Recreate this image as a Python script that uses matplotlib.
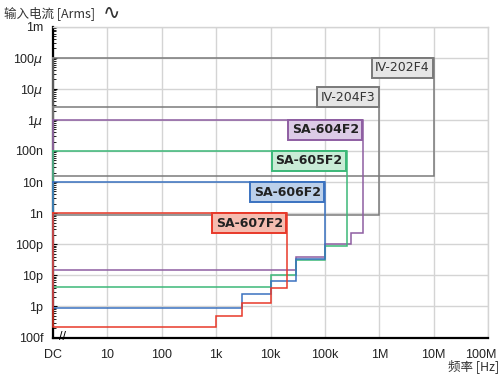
import matplotlib
matplotlib.use("Agg")
import matplotlib.pyplot as plt
import matplotlib.transforms as mtrans
from matplotlib.ticker import FixedLocator, LogLocator, NullFormatter

plt.rcParams["font.family"] = ["Liberation Sans", "Noto Sans CJK SC", "DejaVu Sans"]
plt.rcParams["mathtext.fontset"] = "dejavusans"

# x: DC is drawn at 1 Hz
X_TICKS = [1, 1e1, 1e2, 1e3, 1e4, 1e5, 1e6, 1e7, 1e8]
X_LABELS = ["DC", "10", "100", "1k", "10k", "100k", "1M", "10M", "100M"]
Y_TICKS = [1e-13, 1e-12, 1e-11, 1e-10, 1e-9, 1e-8, 1e-7, 1e-6, 1e-5, 1e-4, 1e-3]
Y_LABELS = ["100f", "1p", "10p", "100p", "1n", "10n", "100n", "1$\\mu$", "10$\\mu$", "100$\\mu$", "1m"]

# instruments: upper limit, max freq, lower-limit staircase (segment start freqs, values)
NAMES = ["IV-202F4", "IV-204F3", "SA-604F2", "SA-605F2", "SA-606F2", "SA-607F2"]
TOP = [1e-4, 2.6e-6, 1e-6, 1e-7, 1e-8, 1e-9]
FMAX = [1e7, 1e6, 5e5, 2.5e5, 1e5, 2e4]
STEP_F = [
    [1],
    [1],
    [1, 3e4, 1e5, 3e5],
    [1, 1e4, 3e4, 1e5],
    [1, 3e3, 1e4, 3e4],
    [1, 1e3, 3e3, 1e4],
]
STEP_I = [
    [1.6e-8],
    [0.9e-9],
    [1.5e-11, 3.8e-11, 1.03e-10, 2.3e-10],
    [4.2e-12, 1.0e-11, 3.1e-11, 8.5e-11],
    [0.87e-12, 2.6e-12, 6.8e-12, 3.3e-11],
    [2.1e-13, 4.9e-13, 1.3e-12, 3.8e-12],
]

LINE_C = ["#7a7a7a", "#7a7a7a", "#8e5ea2", "#3cb878", "#3a72c0", "#e8392a"]
FILL_C = ["#e6e6e6", "#e6e6e6", "#dccbe6", "#c9ecd6", "#bcd0ea", "#f5bcb0"]
TXT_C = ["#333333", "#333333", "#222222", "#222222", "#222222", "#222222"]
BOX_ABOVE = [False, True, False, False, False, False]

fig = plt.figure(figsize=(5, 3.75), dpi=100)
ax = fig.add_axes([0.106, 0.1, 0.87, 0.829])
ax.set_xscale("log")
ax.set_yscale("log")
ax.set_xlim(1, 1e8)
ax.set_ylim(1e-13, 1e-3)

ax.xaxis.set_major_locator(FixedLocator(X_TICKS))
ax.set_xticklabels(X_LABELS, fontsize=9, color="#222222")
ax.yaxis.set_major_locator(FixedLocator(Y_TICKS))
ax.set_yticklabels(Y_LABELS, fontsize=9, color="#222222")
ax.xaxis.set_minor_locator(LogLocator(base=10, subs=range(2, 10), numticks=20))
ax.yaxis.set_minor_locator(LogLocator(base=10, subs=range(2, 10), numticks=20))
ax.xaxis.set_minor_formatter(NullFormatter())
ax.yaxis.set_minor_formatter(NullFormatter())
ax.tick_params(which="major", direction="in", length=3, width=0.8, pad=7, colors="black")
ax.tick_params(which="minor", direction="in", length=2, width=0.6)
ax.tick_params(axis="x", which="both", length=0, pad=8)
ax.tick_params(labelcolor="#222222")

# last x label is pulled in so it stays inside the figure
last = ax.get_xticklabels()[-1]
last.set_transform(last.get_transform() + mtrans.ScaledTranslation(-5 / 72, 0, fig.dpi_scale_trans))

ax.grid(True, which="major", color="#d4d4d4", lw=1.0)
ax.set_axisbelow(True)
for s in ["top", "right"]:
    ax.spines[s].set_color("#d4d4d4")
    ax.spines[s].set_linewidth(1.0)
for s in ["left", "bottom"]:
    ax.spines[s].set_color("black")
    ax.spines[s].set_linewidth(1.6)

for k in range(len(NAMES)):
    xs = [STEP_F[k][0], FMAX[k], FMAX[k]]
    ys = [TOP[k], TOP[k], STEP_I[k][-1]]
    for j in range(len(STEP_F[k]) - 1, -1, -1):
        xs.append(STEP_F[k][j])
        ys.append(STEP_I[k][j])
        if j > 0:
            xs.append(STEP_F[k][j])
            ys.append(STEP_I[k][j - 1])
    xs.append(STEP_F[k][0])
    ys.append(TOP[k])
    ax.plot(xs, ys, color=LINE_C[k], lw=1.1, zorder=3 + k, solid_joinstyle="miter",
            clip_on=False)

    bold = "bold" if NAMES[k].startswith("SA") else "normal"
    dy = 2.5 if BOX_ABOVE[k] else -2.5
    ax.annotate(NAMES[k], xy=(FMAX[k], TOP[k]), xytext=(-2.8, dy),
                textcoords="offset points", ha="right",
                va="bottom" if BOX_ABOVE[k] else "top",
                fontsize=9, fontweight=bold, color=TXT_C[k], family="DejaVu Sans",
                zorder=20 + k,
                bbox=dict(boxstyle="square,pad=0.28", fc=FILL_C[k], ec=LINE_C[k], lw=1.4))

# DC break marker
ax.text(0.022, 0.0, "//", transform=ax.transAxes, ha="center", va="center",
        fontsize=9, color="black", zorder=30)

fig.text(0.008, 0.985, "输入电流 [Arms]", ha="left", va="top", fontsize=9,
         color="#333333", family=["Noto Sans CJK SC", "DejaVu Sans"])
fig.text(0.205, 0.992, "∿", ha="left", va="top", fontsize=15,
         color="#333333", family=["DejaVu Sans"])
fig.text(0.998, 0.005, "频率 [Hz]", ha="right", va="bottom", fontsize=9,
         color="#333333", family=["Noto Sans CJK SC", "DejaVu Sans"])

fig.savefig("out.png", dpi=100)
